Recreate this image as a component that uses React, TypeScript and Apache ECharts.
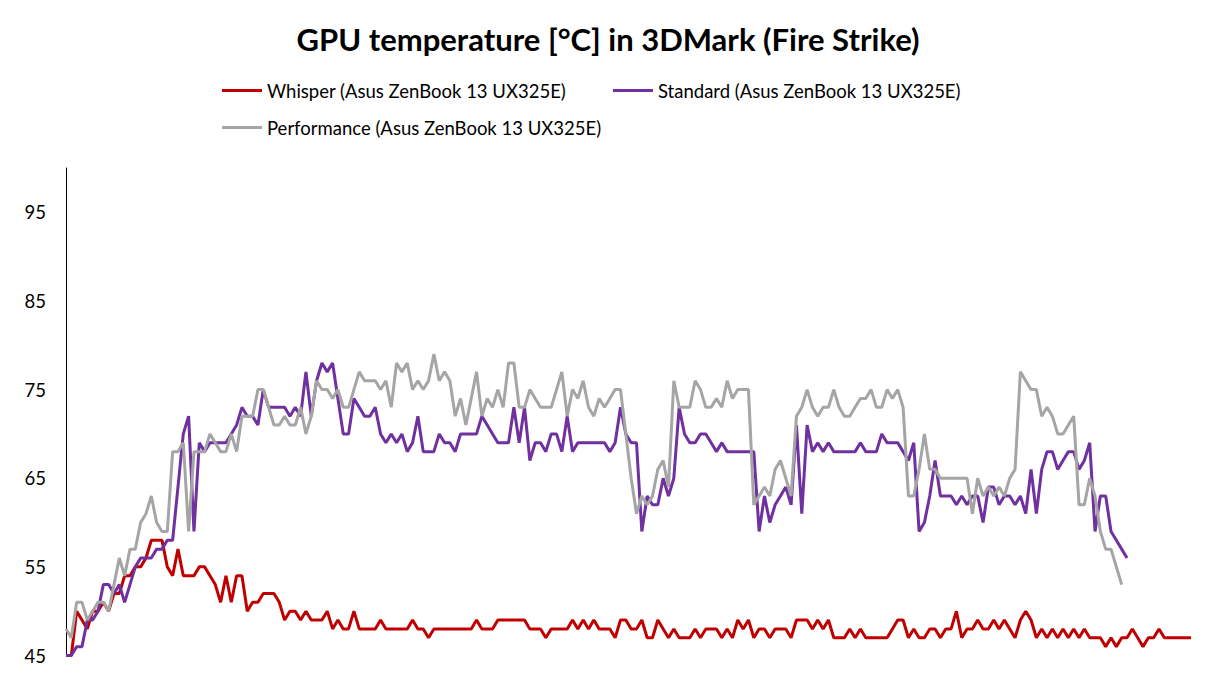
import React, { useEffect, useRef } from "react";
import * as echarts from "echarts";

const titleText = "GPU temperature [°C] in 3DMark (Fire Strike)";
const nameWhisper = "Whisper (Asus ZenBook 13 UX325E)";
const nameStandard = "Standard (Asus ZenBook 13 UX325E)";
const namePerformance = "Performance (Asus ZenBook 13 UX325E)";

const yTicks = [45, 55, 65, 75, 85, 95];

const whisper = [
  45, 45, 50, 49, 48, 50, 50, 51, 50, 52,
  52, 54, 54, 55, 55, 56, 58, 58, 58, 55,
  54, 57, 54, 54, 54, 55, 55, 54, 53, 51,
  54, 51, 54, 54, 50, 51, 51, 52, 52, 52,
  51, 49, 50, 50, 49, 50, 49, 49, 49, 50,
  48, 49, 48, 48, 50, 48, 48, 48, 48, 49,
  48, 48, 48, 48, 48, 49, 48, 48, 47, 48,
  48, 48, 48, 48, 48, 48, 48, 49, 48, 48,
  48, 49, 49, 49, 49, 49, 49, 48, 48, 48,
  47, 48, 48, 48, 48, 49, 48, 49, 48, 49,
  48, 48, 48, 47, 49, 49, 48, 48, 49, 47,
  47, 49, 48, 47, 48, 47, 47, 47, 48, 47,
  48, 48, 48, 47, 48, 47, 49, 48, 49, 47,
  48, 48, 47, 48, 48, 48, 47, 49, 49, 49,
  48, 49, 48, 49, 47, 47, 47, 48, 47, 48,
  47, 47, 47, 47, 47, 48, 49, 49, 47, 48,
  47, 47, 48, 48, 47, 48, 48, 50, 47, 48,
  48, 49, 48, 48, 49, 48, 49, 48, 47, 49,
  50, 49, 47, 48, 47, 48, 47, 48, 47, 48,
  47, 48, 47, 47, 47, 46, 47, 46, 47, 47,
  48, 47, 46, 47, 47, 48, 47, 47, 47, 47, 47, 47,
];

const standard = [
  45, 45, 46, 46, 49, 49, 50, 53, 53, 52,
  53, 51, 53, 55, 56, 56, 56, 57, 57, 58,
  58, 64, 70, 72, 59, 69, 68, 69, 69, 69,
  69, 70, 71, 73, 72, 72, 71, 75, 73, 73,
  73, 73, 72, 73, 72, 77, 72, 76, 78, 77,
  78, 74, 70, 70, 74, 73, 72, 72, 73, 70,
  69, 70, 69, 70, 68, 69, 72, 68, 68, 68,
  70, 69, 69, 68, 70, 70, 70, 70, 72, 71,
  70, 69, 69, 69, 73, 69, 73, 67, 69, 69,
  68, 70, 70, 68, 72, 68, 69, 69, 69, 69,
  69, 69, 68, 69, 73, 70, 69, 69, 59, 63,
  62, 62, 65, 63, 65, 73, 70, 69, 69, 70,
  70, 69, 68, 69, 68, 68, 68, 68, 68, 68,
  59, 63, 60, 62, 63, 64, 62, 71, 61, 71,
  68, 69, 68, 69, 68, 68, 68, 68, 68, 69,
  68, 68, 68, 70, 69, 69, 69, 68, 67, 69,
  59, 60, 63, 67, 63, 63, 63, 62, 63, 62,
  63, 63, 60, 64, 64, 62, 63, 63, 62, 63,
  61, 66, 61, 66, 68, 68, 66, 67, 68, 68,
  66, 67, 69, 59, 63, 63, 59, 58, 57, 56,
];

const performance = [
  48, 47, 51, 51, 49, 50, 51, 51, 50, 53,
  56, 54, 57, 57, 60, 61, 63, 60, 59, 59,
  68, 68, 69, 59, 68, 68, 68, 70, 69, 68,
  68, 70, 68, 72, 72, 72, 75, 75, 73, 71,
  71, 72, 71, 71, 73, 70, 72, 76, 75, 75,
  74, 75, 73, 73, 75, 77, 76, 76, 76, 75,
  76, 73, 78, 77, 78, 75, 76, 75, 76, 79,
  76, 77, 76, 72, 74, 71, 74, 77, 72, 74,
  73, 75, 73, 78, 78, 73, 73, 75, 74, 73,
  73, 73, 75, 77, 72, 75, 74, 76, 73, 72,
  74, 73, 74, 75, 75, 70, 65, 61, 63, 62,
  63, 66, 67, 64, 76, 73, 73, 73, 76, 75,
  73, 73, 74, 73, 76, 74, 75, 75, 75, 62,
  63, 64, 63, 66, 67, 65, 63, 72, 73, 75,
  73, 72, 73, 73, 75, 73, 72, 72, 73, 74,
  74, 75, 73, 73, 75, 74, 75, 73, 63, 63,
  66, 70, 66, 66, 65, 65, 65, 65, 65, 65,
  61, 65, 63, 64, 63, 64, 63, 65, 66, 77,
  76, 75, 75, 72, 73, 72, 70, 70, 71, 72,
  62, 62, 65, 63, 59, 57, 57, 55, 53,
];

const categories = whisper.map((_, i) => String(i + 1));

const FONT = "Lato, 'Noto Sans', sans-serif";

export default function App() {
  const ref = useRef<HTMLDivElement>(null);

  useEffect(() => {
    if (!ref.current) return;
    const chart = echarts.init(ref.current, null, { renderer: "svg" });
    const legendBase = {
      icon: "rect",
      itemWidth: 40,
      itemHeight: 3,
      itemGap: 0,
      padding: 0,
      selectedMode: false,
      textStyle: { fontFamily: FONT, fontSize: 18.5, color: "#000" },
    };
    chart.setOption({
      animation: false,
      backgroundColor: "#ffffff",
      title: {
        text: titleText,
        left: "center",
        top: 23,
        padding: 0,
        textStyle: { fontFamily: FONT, fontWeight: "bold", fontSize: 31, color: "#000" },
      },
      legend: [
        { ...legendBase, data: [nameWhisper], left: 222, top: 81 },
        { ...legendBase, data: [nameStandard], left: 613, top: 81 },
        { ...legendBase, data: [namePerformance], left: 222, top: 118 },
      ],
      grid: { left: 66, right: 25, top: 168, bottom: 25.5, containLabel: false },
      xAxis: {
        type: "category",
        data: categories,
        boundaryGap: false,
        axisLine: { show: false },
        axisTick: { show: false },
        axisLabel: { show: false },
        splitLine: { show: false },
      },
      yAxis: {
        type: "value",
        min: 45,
        max: 100,
        interval: 10,
        axisLine: { show: true, lineStyle: { color: "#000", width: 1 } },
        axisTick: { show: false },
        splitLine: { show: false },
        axisLabel: {
          fontFamily: FONT,
          fontSize: 18.5,
          color: "#000",
          margin: 20,
          formatter: (v: number) => (yTicks.includes(v) ? String(v) : ""),
        },
      },
      series: [
        {
          name: nameWhisper,
          type: "line",
          data: whisper,
          symbol: "none",
          color: "#C00000",
          lineStyle: { width: 3, color: "#C00000" },
        },
        {
          name: nameStandard,
          type: "line",
          data: standard,
          symbol: "none",
          color: "#7030A0",
          lineStyle: { width: 3, color: "#7030A0" },
        },
        {
          name: namePerformance,
          type: "line",
          data: performance,
          symbol: "none",
          color: "#A5A5A5",
          lineStyle: { width: 3, color: "#A5A5A5" },
        },
      ],
    });
    return () => chart.dispose();
  }, []);

  return (
    <div
      ref={ref}
      style={{ position: "absolute", left: 0, top: 0, width: 1216, height: 681, background: "#fff" }}
    />
  );
}
